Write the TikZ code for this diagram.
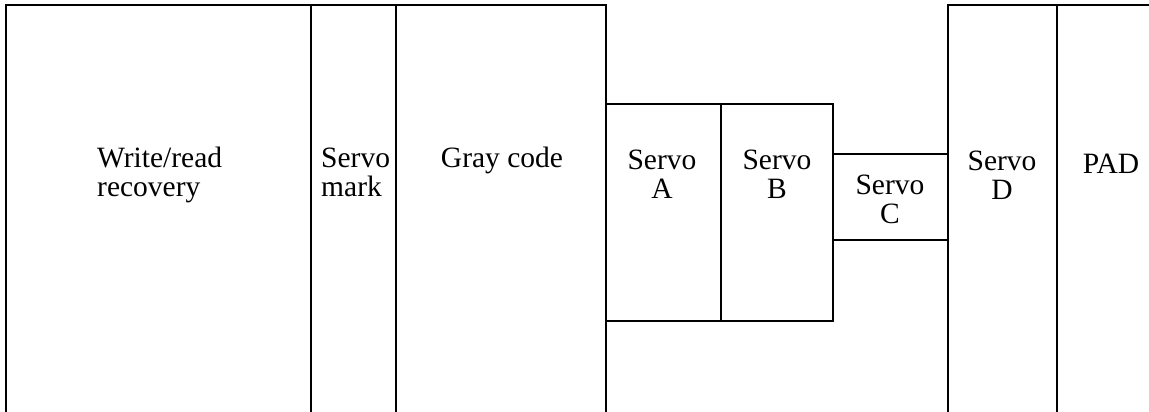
\documentclass[tikz,border=0pt]{standalone}
\usepackage{fontspec}
\setmainfont{Liberation Serif}
\tikzset{
    field/.style={line width=1.5pt},
    lbl/.style={font=\fontsize{29.5}{29}\selectfont, inner sep=0pt},
}
\begin{document}
\begin{tikzpicture}[x=1pt, y=1pt]
    \useasboundingbox (0, 0) rectangle (1149, -412);
    % Các vùng bên trái
    \draw[field] (6, -412) -- (6, -5) -- (606, -5) -- (606, -412);
    \draw[field] (311, -5) -- (311, -412);
    \draw[field] (396, -5) -- (396, -412);

    % Servo A, B, C
    \draw[field] (606, -104) rectangle (833, -321);
    \draw[field] (721, -104) -- (721, -321);
    \draw[field] (833, -154) rectangle (948, -240);

    % Servo D và PAD
    \draw[field] (1149, -5) -- (948, -5) -- (948, -412);
    \draw[field] (1057, -5) -- (1057, -412);

    % Nhãn
    \node[lbl, align=left, anchor=base west] (wr) at (97, -196) {Write/read\\recovery};
    \node[lbl, align=left, anchor=base west] (mark) at (321, -196) {Servo\\mark};
    \node[lbl, anchor=base] (gray) at (502, -167) {Gray code};
    \node[lbl, align=center, anchor=base] (sa) at (662, -198) {Servo\\A};
    \node[lbl, align=center, anchor=base] (sb) at (777, -198) {Servo\\B};
    \node[lbl, align=center, anchor=base] (sc) at (890, -223) {Servo\\C};
    \node[lbl, align=center, anchor=base] (sd) at (1002, -199) {Servo\\D};
    \node[lbl, anchor=base] (pad) at (1111, -173) {PAD};
\end{tikzpicture}
\end{document}
